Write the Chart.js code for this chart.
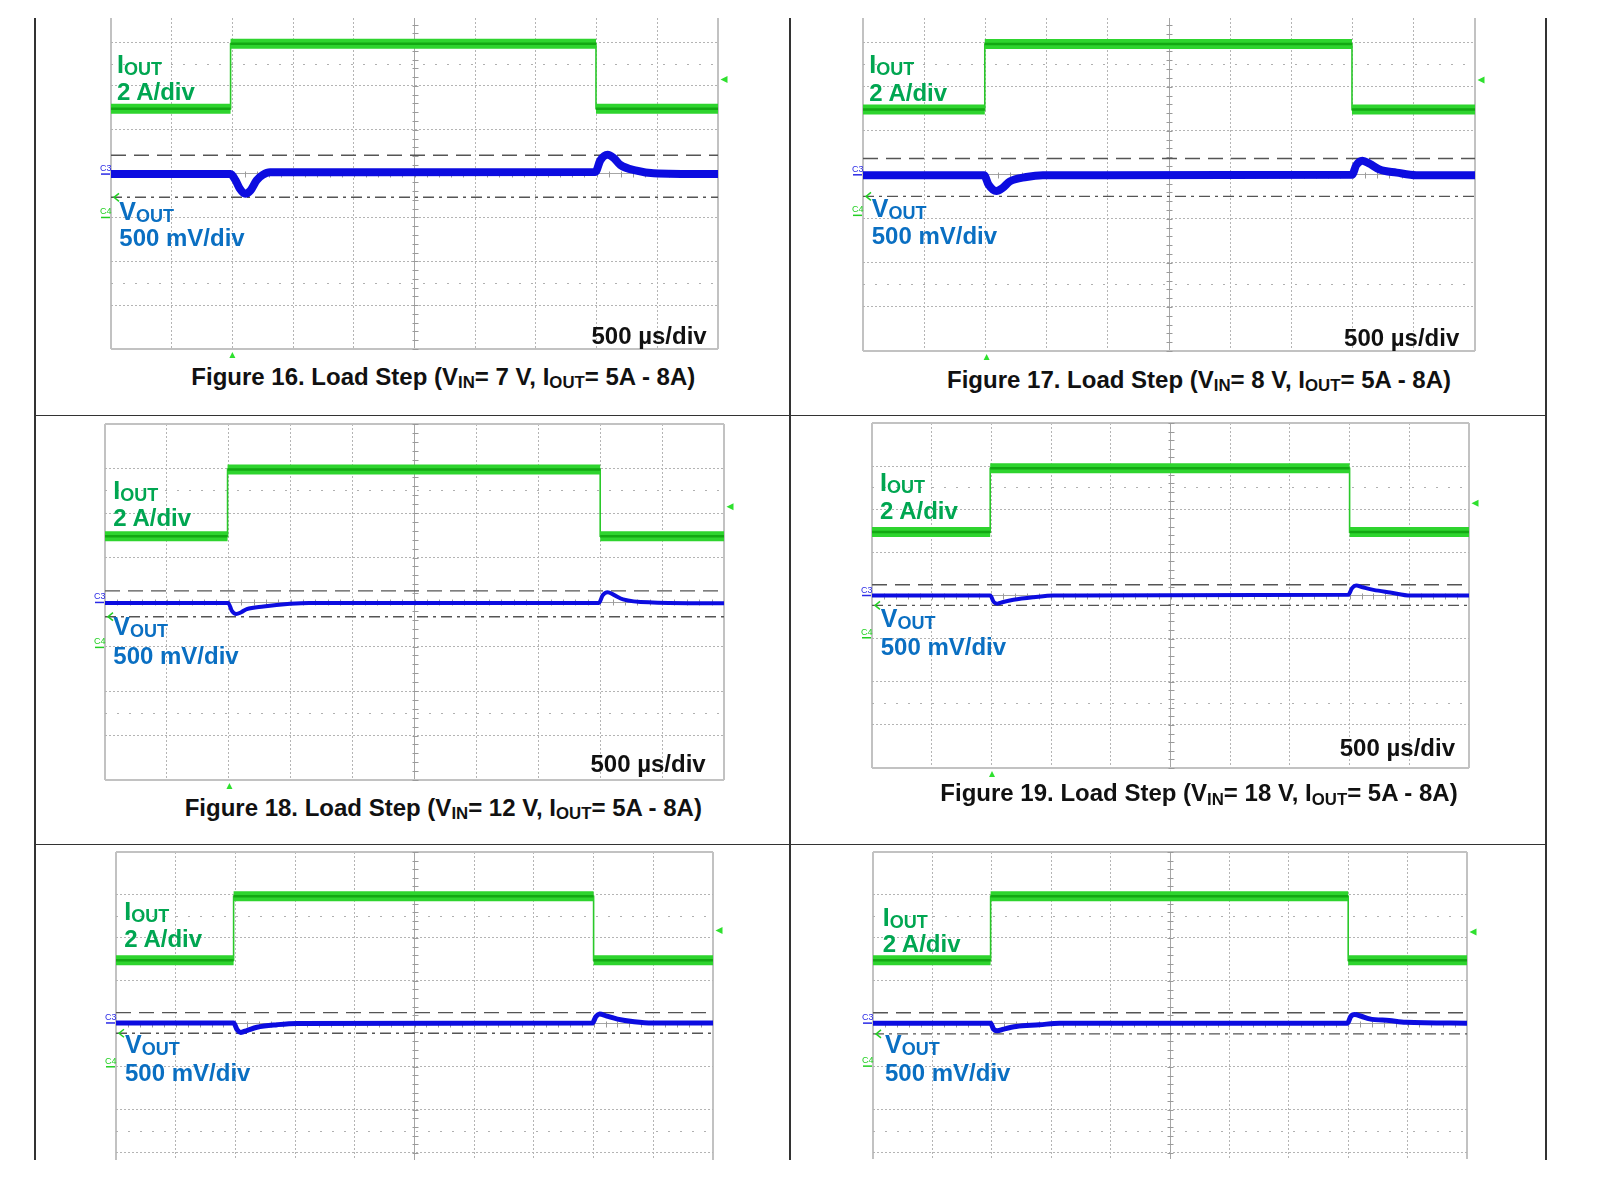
<!DOCTYPE html>
<html>
<head>
<meta charset="utf-8">
<script src="https://cdn.jsdelivr.net/npm/chart.js@4.4.1/dist/chart.umd.min.js"></script>
<style>
  body { margin: 0; background: #fff; }
  #page { position: relative; width: 1598px; height: 1178px; overflow: hidden;
          font-family: "Liberation Sans", Arial, sans-serif; font-weight: bold; }
  .rule { position: absolute; background: #333; }
  canvas { position: absolute; }
  .t { position: absolute; white-space: nowrap; line-height: 1; }
  .t sub { font-size: 0.7em; vertical-align: baseline; position: relative; top: 0.2em; }
</style>
</head>
<body>
<div id="page"></div>
<script>
// ---- values (units: divisions, 10 x 8 screen) ----
const figureNumbers = [16, 17, 18, 19];
const vinValues = [7, 8, 12, 18];
const ioutScale = "2 A/div";
const voutScale = "500 mV/div";
const timeScale = "500 µs/div";

const ioutLow = [5.48, 5.48, 5.48, 5.47, 5.48, 5.48];
const ioutHigh = [6.96, 6.97, 6.98, 6.95, 6.97, 6.97];
const stepUpAt = [1.97, 1.99, 1.98, 1.98, 1.97, 1.98];
const stepDownAt = [7.99, 7.99, 8.0, 8.0, 8.0, 8.0];
const upperLimit = [4.42, 4.37, 4.25, 4.25, 4.26, 4.26];   // dashed line
const lowerLimit = [3.46, 3.51, 3.67, 3.77, 3.78, 3.77];   // dash-dot line
const triggerLevel = [6.15, 6.15, 6.14, 6.14, 6.17, 6.14];
const c3Level = [3.99, 4.0, 3.99, 4.0, 4.02, 4.02];
const c4Level = [3.0, 3.08, 2.98, 3.02, 3.0, 3.02];

const vout16 = [[0,3.99],[1.97,3.99],[2.05,3.85],[2.12,3.66],[2.21,3.54],[2.3,3.62],[2.4,3.85],[2.5,3.97],[2.62,4.03],[7.98,4.04],[8.06,4.3],[8.18,4.43],[8.28,4.36],[8.39,4.2],[8.66,4.07],[8.94,4.01],[10,3.99]];
const vout17 = [[0,3.99],[1.98,3.99],[2.05,3.78],[2.18,3.63],[2.28,3.7],[2.4,3.85],[2.67,3.95],[2.94,3.99],[7.99,4.0],[8.06,4.22],[8.16,4.32],[8.28,4.25],[8.44,4.12],[8.72,4.05],[9.04,3.99],[10,3.99]];
const vout18 = [[0,3.98],[1.99,3.98],[2.05,3.8],[2.12,3.73],[2.2,3.77],[2.29,3.84],[2.56,3.9],[2.99,3.96],[3.3,3.98],[7.98,3.98],[8.04,4.15],[8.12,4.22],[8.22,4.16],[8.37,4.06],[8.85,3.99],[10,3.97]];
const vout19 = [[0,4.0],[1.98,4.0],[2.04,3.85],[2.1,3.81],[2.2,3.85],[2.37,3.9],[2.71,3.96],[3.04,4.0],[7.98,4.02],[8.04,4.17],[8.11,4.23],[8.22,4.19],[8.4,4.13],[8.68,4.07],[9.02,4.0],[10,4.0]];
const vout20 = [[0,4.02],[1.97,4.02],[2.03,3.86],[2.09,3.8],[2.2,3.85],[2.36,3.92],[2.7,3.98],[3.03,4.01],[7.98,4.02],[8.04,4.17],[8.1,4.23],[8.22,4.18],[8.4,4.11],[8.68,4.05],[8.98,4.02],[10,4.02]];
const vout21 = [[0,4.02],[1.98,4.02],[2.03,3.88],[2.09,3.84],[2.2,3.88],[2.41,3.94],[2.8,3.98],[3.14,4.02],[7.99,4.02],[8.04,4.17],[8.11,4.22],[8.22,4.18],[8.36,4.12],[8.69,4.08],[8.97,4.04],[10,4.02]];
const voutTraces = [vout16, vout17, vout18, vout19, vout20, vout21];

// visible part of each screen (the top two and bottom two shots are cropped)
const yMinDiv = [0, 0, 0, 0, 0.83, 0.86];
const yMaxDiv = [7.55, 7.56, 8, 8, 8, 8];

// ---- layout ----
const panelBox = [
  [110.7, 18, 717.7, 349.3],
  [863.3, 18.3, 1475.3, 351.7],
  [105, 424, 724.3, 780],
  [871.7, 422.7, 1468.7, 767.3],
  [115.7, 851.7, 712.7, 1160],
  [873.3, 852.3, 1467.7, 1159.3]
];
const voutWidth = [8, 8, 4, 4, 5, 5];
const ioutLabelPos = [[117, 72.7, 100.7], [869.3, 73.3, 101.7], [113.3, 499.3, 526.7], [880, 491, 519], [124.3, 920, 947.7], [882.7, 926, 952.7]];
const voutLabelPos = [[119.3, 220, 246], [871.7, 217.3, 244], [113.3, 635, 664], [880.7, 627, 655], [125, 1053.3, 1081.7], [885, 1053.3, 1081.7]];
const timeLabelPos = [[706.7, 344], [1459.3, 346.7], [705.7, 772.7], [1455, 756.7]];
const captionPos = [[443.3, 385], [1199, 388.3], [443.3, 816], [1199, 801.7]];

const GREEN_TXT = "#00a651";
const BLUE_TXT = "#0a6fc2";
const page = document.getElementById("page");

// frame rules of the figure table
[[34, 18, 1.6, 1142], [789, 18, 1.6, 1142], [1545, 18, 1.6, 1142],
 [34, 414.5, 1512.6, 1.8], [34, 843.5, 1512.6, 1.8]].forEach(r => {
  const d = document.createElement("div");
  d.className = "rule";
  d.style.left = r[0] + "px"; d.style.top = r[1] + "px";
  d.style.width = r[2] + "px"; d.style.height = r[3] + "px";
  page.appendChild(d);
});

function addText(html, x, baseline, size, color, align) {
  const d = document.createElement("div");
  d.className = "t";
  d.innerHTML = html;
  d.style.fontSize = size + "px";
  d.style.color = color;
  d.style.left = x + "px";
  d.style.top = (baseline - size * 0.847) + "px";
  if (align === "center") d.style.transform = "translateX(-50%)";
  if (align === "right") d.style.transform = "translateX(-100%)";
  page.appendChild(d);
}

function triangle(ctx, x, y, r, dir) {
  ctx.beginPath();
  if (dir === "left") {
    ctx.moveTo(x - r, y); ctx.lineTo(x + r, y - r); ctx.lineTo(x + r, y + r);
  } else {
    ctx.moveTo(x, y - r); ctx.lineTo(x - r, y + r); ctx.lineTo(x + r, y + r);
  }
  ctx.closePath();
  ctx.fill();
}

// scope decorations: centre-line minor ticks, C3/C4 markers, trigger marks
const scopeMarks = {
  id: "scopeMarks",
  beforeDatasetsDraw(chart) {
    const { ctx, scales: { x, y } } = chart;
    const cx = Math.round(x.getPixelForValue(5)) + 0.5;
    const cy = Math.round(y.getPixelForValue(4)) + 0.5;
    ctx.save();
    ctx.strokeStyle = "#9a9a9a";
    ctx.lineWidth = 1;
    ctx.beginPath();
    for (let k = 1; k < 50; k++) {
      const px = Math.round(x.getPixelForValue(k / 5)) + 0.5;
      ctx.moveTo(px, cy - 3); ctx.lineTo(px, cy + 3);
    }
    for (let k = Math.ceil(y.min * 5); k <= y.max * 5; k++) {
      const py = Math.round(y.getPixelForValue(k / 5)) + 0.5;
      ctx.moveTo(cx - 3, py); ctx.lineTo(cx + 3, py);
    }
    ctx.stroke();
    ctx.restore();
  },
  afterDatasetsDraw(chart, args, opts) {
    const { ctx, chartArea: a, scales: { x, y } } = chart;
    ctx.save();
    ctx.font = "9px 'Liberation Sans', Arial";
    ctx.lineWidth = 1.5;
    const y3 = y.getPixelForValue(opts.c3), y4 = y.getPixelForValue(opts.c4);
    ctx.fillStyle = ctx.strokeStyle = "#2a2ae6";
    ctx.fillText("C3", a.left - 11, y3 - 3);
    ctx.beginPath(); ctx.moveTo(a.left - 10, y3); ctx.lineTo(a.left - 1, y3); ctx.stroke();
    ctx.fillStyle = ctx.strokeStyle = "#22d022";
    ctx.fillText("C4", a.left - 11, y4 - 3);
    ctx.beginPath(); ctx.moveTo(a.left - 10, y4); ctx.lineTo(a.left - 1, y4); ctx.stroke();
    const yc = y.getPixelForValue(opts.ref);
    ctx.beginPath();
    ctx.moveTo(a.left + 8, yc - 4); ctx.lineTo(a.left + 3, yc); ctx.lineTo(a.left + 8, yc + 4);
    ctx.stroke();
    // trigger level (right edge) and trigger position (below the screen)
    ctx.fillStyle = "#2ee02e";
    triangle(ctx, a.right + 6, y.getPixelForValue(opts.trigLevel), 3.5, "left");
    if (opts.trigPos !== null) triangle(ctx, x.getPixelForValue(opts.trigPos), a.bottom + 6, 3, "up");
    ctx.restore();
  }
};

const padL = 26, padR = 16, padT = 2, padB = 12;

panelBox.forEach((box, i) => {
  const w = box[2] - box[0], h = box[3] - box[1];
  const canvas = document.createElement("canvas");
  canvas.width = Math.round(w + padL + padR);
  canvas.height = Math.round(h + padT + padB);
  canvas.style.left = (box[0] - padL) + "px";
  canvas.style.top = (box[1] - padT) + "px";
  page.appendChild(canvas);

  const yMin = yMinDiv[i], yMax = yMaxDiv[i];
  const xDotted = [1, 2, 3, 4, 6, 7, 8, 9];
  const xSolid = [0, 5, 10];
  const yDotted = [1, 2, 3, 5, 6, 7].filter(v => v > yMin && v < yMax);
  const ySolid = [0, 4, 8].filter(v => v >= yMin && v <= yMax);
  const ySparse = [1.5, 6.5].filter(v => v > yMin && v < yMax);

  const lo = ioutLow[i], hi = ioutHigh[i], up = stepUpAt[i], dn = stepDownAt[i];
  const ioutEdges = [
    { x: 0, y: lo }, { x: up, y: lo }, { x: up, y: hi },
    { x: dn, y: hi }, { x: dn, y: lo }, { x: 10, y: lo }
  ];
  const ioutBands = [
    { x: 0, y: lo }, { x: up, y: lo }, { x: up, y: null },
    { x: up, y: hi }, { x: dn, y: hi }, { x: dn, y: null },
    { x: dn, y: lo }, { x: 10, y: lo }
  ];
  const vout = voutTraces[i].map(p => ({ x: p[0], y: p[1] }));

  const axis = (pos, list, grid, extra) => Object.assign({
    type: "linear", position: pos, display: true,
    ticks: { display: false },
    grid: Object.assign({ drawTicks: false }, grid),
    afterBuildTicks: ax => { ax.ticks = list.map(v => ({ value: v })); }
  }, extra);

  new Chart(canvas, {
    type: "line",
    data: {
      datasets: [
        { data: vout, borderColor: "#0c0ce0", borderWidth: voutWidth[i],
          cubicInterpolationMode: "monotone", pointRadius: 0, order: 1 },
        { data: ioutBands, borderColor: "#13a813", borderWidth: 2.5, spanGaps: false,
          pointRadius: 0, order: 2 },
        { data: ioutBands, borderColor: "#2ed42e", borderWidth: 10, spanGaps: false,
          pointRadius: 0, order: 3 },
        { data: ioutEdges, borderColor: "#2ac82a", borderWidth: 1.6, pointRadius: 0, order: 4 },
        { data: [{ x: 0, y: upperLimit[i] }, { x: 10, y: upperLimit[i] }],
          borderColor: "#555", borderWidth: 1.4, borderDash: [15, 8], pointRadius: 0, order: 5 },
        { data: [{ x: 0, y: lowerLimit[i] }, { x: 10, y: lowerLimit[i] }],
          borderColor: "#555", borderWidth: 1.4, borderDash: [11, 5, 3, 5], pointRadius: 0, order: 6 }
      ]
    },
    options: {
      responsive: false,
      animation: false,
      events: [],
      layout: { padding: { left: padL, right: padR, top: padT, bottom: padB } },
      plugins: {
        legend: { display: false },
        tooltip: { enabled: false },
        scopeMarks: { c3: c3Level[i], c4: c4Level[i], ref: lowerLimit[i],
                      trigLevel: triggerLevel[i], trigPos: i < 4 ? up + 0.03 : null }
      },
      scales: {
        x: axis("bottom", xDotted, { color: "#b4b4b4", lineWidth: 1 },
          { min: 0, max: 10, border: { display: false, dash: [2, 2] } }),
        xs: axis("bottom", xSolid,
          { color: c => c.tick.value === 5 ? "#a6a6a6" : "#c2c2c2",
            lineWidth: c => c.tick.value === 5 ? 1 : 2 },
          { min: 0, max: 10, border: { display: false } }),
        y: axis("left", yDotted, { color: "#b4b4b4", lineWidth: 1 },
          { min: yMin, max: yMax, border: { display: false, dash: [2, 2] } }),
        ys: axis("left", ySolid,
          { color: c => c.tick.value === 4 ? "#a6a6a6" : "#c2c2c2",
            lineWidth: c => c.tick.value === 4 ? 1 : 2 },
          { min: yMin, max: yMax, border: { display: false } }),
        yd: axis("left", ySparse, { color: "#b0b0b0", lineWidth: 1 },
          { min: yMin, max: yMax, border: { display: false, dash: [2, 10] } })
      }
    },
    plugins: [scopeMarks]
  });

  // channel labels
  const il = ioutLabelPos[i], vl = voutLabelPos[i];
  addText("I<sub style='top:0.13em;font-size:0.72em'>OUT</sub>", il[0], il[1], 25, GREEN_TXT);
  addText(ioutScale, il[0], il[2], 24, GREEN_TXT);
  addText("V<sub style='top:0.13em;font-size:0.72em'>OUT</sub>", vl[0], vl[1], 25, BLUE_TXT);
  addText(voutScale, vl[0], vl[2], 24, BLUE_TXT);
  if (i < 4) {
    addText(timeScale, timeLabelPos[i][0], timeLabelPos[i][1], 24, "#111", "right");
    addText("Figure " + figureNumbers[i] + ". Load Step (V<sub>IN</sub>= " + vinValues[i] +
      " V, I<sub>OUT</sub>= 5A - 8A)", captionPos[i][0], captionPos[i][1], 24, "#111", "center");
  }
});
</script>
</body>
</html>
